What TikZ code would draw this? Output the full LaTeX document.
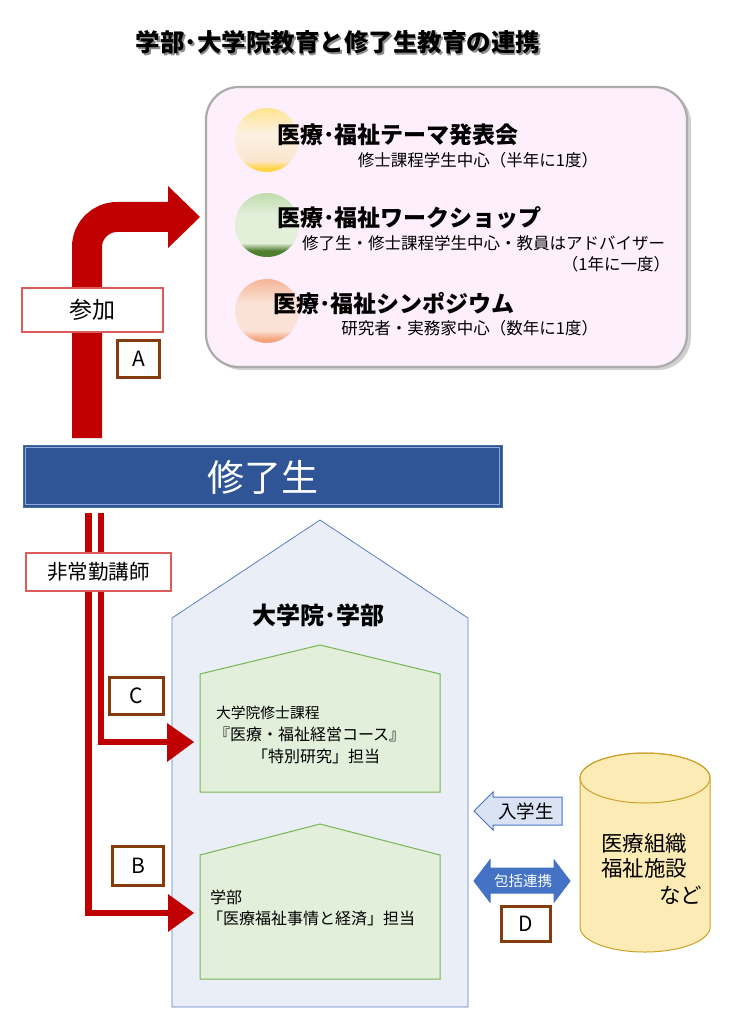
\documentclass[tikz,border=0pt]{standalone}
\usepackage{fontspec}
\newfontfamily\jp{Noto Sans CJK JP}
\usetikzlibrary{calc}
\newcommand\myfs[1]{\fontsize{#1}{#1}\selectfont}
\definecolor{dred}{HTML}{C00000}
\definecolor{brownb}{HTML}{843C0C}
\definecolor{navy}{HTML}{2F5597}
\definecolor{navyln}{HTML}{41719C}
\definecolor{navyin}{HTML}{8FAADC}
\definecolor{pinkbg}{HTML}{FDF0FC}
\definecolor{pinkln}{HTML}{ABABAB}
\definecolor{housebg}{HTML}{E9EEF7}
\definecolor{houseln}{HTML}{5B7FBF}
\definecolor{greenbg}{HTML}{E2EFDA}
\definecolor{greenln}{HTML}{78B653}
\definecolor{cylbg}{HTML}{FDEBB6}
\definecolor{cylln}{HTML}{C9A227}
\definecolor{lblue}{HTML}{DAE3F3}
\definecolor{mblue}{HTML}{4472C4}
\definecolor{redbox}{HTML}{DD5A5A}
% circle gradients
\definecolor{yb}{HTML}{FFD447}
\definecolor{ym2}{HTML}{FBE6CF}
\definecolor{ym}{HTML}{FDF1E3}
\definecolor{yt}{HTML}{FFE48F}
\definecolor{gb}{HTML}{4F7F2F}
\definecolor{gm}{HTML}{E2EFD9}
\definecolor{gt}{HTML}{C0DCAD}
\definecolor{ob}{HTML}{F4A47E}
\definecolor{om}{HTML}{FBE2D6}
\definecolor{ot}{HTML}{F5B597}
\pgfdeclareverticalshading{yelshade}{100bp}{color(0bp)=(yb); color(28bp)=(yb); color(34bp)=(ym2); color(55bp)=(ym); color(75bp)=(yt); color(100bp)=(yt)}
\pgfdeclareverticalshading{grnshade}{100bp}{color(0bp)=(gb); color(30bp)=(gb); color(36bp)=(gm); color(58bp)=(gm); color(75bp)=(gt); color(100bp)=(gt)}
\pgfdeclareverticalshading{orgshade}{100bp}{color(0bp)=(ob); color(28bp)=(ob); color(35bp)=(om); color(56bp)=(om); color(75bp)=(ot); color(100bp)=(ot)}
\begin{document}
\begin{tikzpicture}[x=1pt,y=-1pt,
  every node/.style={inner sep=0pt,outer sep=0pt,font=\jp},
  ttl/.style={font=\jp\bfseries\myfs{24.5}},
  evtitle/.style={font=\jp\bfseries\myfs{23},anchor=west},
  evsub/.style={font=\jp\myfs{16.5}},
  redlbl/.style={draw=redbox,line width=2,fill=white},
  letterbox/.style={draw=brownb,line width=3,fill=white,font=\jp\myfs{21}},
  band/.style={draw=dred,line width=30,rounded corners=30},
  thinband/.style={draw=dred,line width=6.5,line join=miter},
  head/.style={fill=dred},
  housetxt/.style={font=\jp\myfs{16},anchor=west},
  cyltxt/.style={font=\jp\myfs{21.5}}]
\useasboundingbox (0,0) rectangle (729,1024);

% title
\node[ttl,text=black!45] (titleshadow) at (339.8,43.8) {学部･大学院教育と修了生教育の連携};
\node[ttl] (title) at (338,42) {学部･大学院教育と修了生教育の連携};

% events box
\fill[black!18,rounded corners=33] (209,90) rectangle (691,370);
\node[draw=pinkln,line width=2.2,fill=pinkbg,rounded corners=33,minimum width=481,minimum height=280] (events) at (446.5,227) {};

\shade[shading=yelshade] (267,140) circle (32);
\shade[shading=grnshade] (267,225) circle (32);
\shade[shading=orgshade] (267,311) circle (32);

\node[evtitle] (ev1) at (277,135) {医療･福祉テーマ発表会};
\node[evsub,anchor=east] (ev1s) at (598,160) {修士課程学生中心（半年に1度）};
\node[evtitle] (ev2) at (277,218) {医療･福祉ワークショップ};
\node[evsub,anchor=west] (ev2s) at (302,243) {修了生・修士課程学生中心・教員はアドバイザー};
\node[evsub,anchor=east] (ev2t) at (670,264) {（1年に一度）};
\node[evtitle] (ev3) at (273,304) {医療･福祉シンポジウム};
\node[evsub,anchor=east] (ev3s) at (598,328) {研究者・実務家中心（数年に1度）};

% graduates bar
\node[fill=navy,draw=navyln,line width=1,minimum width=479,minimum height=62] (shuryo) at (262.5,476) {};
\draw[navyin,line width=0.8] ($(shuryo.north west)+(2.5,2.5)$) rectangle ($(shuryo.south east)+(-2.5,-2.5)$);
\node[text=white,font=\jp\myfs{37}] (shuryotxt) at (263,477) {修了生};

% arrow A
\draw[band] ($(shuryo.north west)+(64,-7)$) |- ($(events.west)+(-38,-10)$);
\fill[head] ($(events.west)+(-38,-41)$) -- ($(events.west)+(-6,-10)$) -- ($(events.west)+(-38,21)$) -- cycle;
\node[redlbl,minimum width=141,minimum height=44,font=\jp\myfs{23}] (sanka) at (92.5,310) {参加};
\node[letterbox,minimum width=42,minimum height=37] (boxA) at (138.5,359) {A};

% big house
\draw[fill=housebg,draw=houseln,line width=0.8] (172,618) -- (320,520) -- (468,618) -- (468,1007) -- (172,1007) -- cycle;
\node[font=\jp\bfseries\myfs{24}] (daigakuin) at (318,615) {大学院･学部};

% green houses
\draw[fill=greenbg,draw=greenln,line width=1] (200,674) -- (320,645) -- (440,674) -- (440,792) -- (200,792) -- cycle;
\node[housetxt,font=\jp\myfs{14.8}] (h1a) at (216,713) {大学院修士課程};
\node[housetxt] (h1b) at (214,734) {『医療・福祉経営コース』};
\node[housetxt] (h1c) at (252,756) {「特別研究」担当};

\draw[fill=greenbg,draw=greenln,line width=1] (200,855) -- (320,824) -- (440,855) -- (440,979) -- (200,979) -- cycle;
\node[housetxt] (h2a) at (210,897) {学部};
\node[housetxt] (h2b) at (207,918) {「医療福祉事情と経済」担当};

\coordinate (gradIn) at (194,742);
\coordinate (ugIn) at (194,913);

% lines C and B
\draw[thinband] ($(shuryo.south west)+(78,6)$) |- ($(gradIn)+(-26,0)$);
\fill[head] ($(gradIn)+(-27,-19)$) -- (gradIn) -- ($(gradIn)+(-27,20)$) -- cycle;
\draw[thinband] ($(shuryo.south west)+(65.5,6)$) |- ($(ugIn)+(-26,0)$);
\fill[head] ($(ugIn)+(-26,-19)$) -- (ugIn) -- ($(ugIn)+(-26,19)$) -- cycle;

\node[redlbl,minimum width=145,minimum height=38,font=\jp\myfs{20.5}] (hijokin) at (98.5,572) {非常勤講師};
\node[letterbox,minimum width=54,minimum height=37] (boxC) at (136.5,696) {C};
\node[letterbox,minimum width=51,minimum height=39] (boxB) at (138,866) {B};

% cylinder
\draw[fill=cylbg,draw=cylln,line width=1] (580,778) -- (580,927) arc[start angle=180,end angle=0,x radius=65,y radius=25] -- (710,778) arc[start angle=0,end angle=-180,x radius=65,y radius=25] -- cycle;
\draw[draw=cylln,line width=1] (645,778) ellipse[x radius=65,y radius=25];
\node[cyltxt,anchor=west] (cyl1) at (601,843) {医療組織};
\node[cyltxt,anchor=west] (cyl2) at (601,868) {福祉施設};
\node[cyltxt,anchor=east] (cyl3) at (702,895) {など};

% arrows
\draw[fill=lblue,draw=mblue,line width=1] (474,811) -- (493,792) -- (493,797) -- (562,797) -- (562,825) -- (493,825) -- (493,830) -- cycle;
\node[font=\jp\myfs{18.5}] (nyugaku) at (526,811) {入学生};
\draw[fill=mblue,draw=mblue,line width=1] (474,881) -- (490,860) -- (490,868) -- (554,868) -- (554,860) -- (570,881) -- (554,902) -- (554,893) -- (490,893) -- (490,902) -- cycle;
\node[text=white,font=\jp\myfs{14.5}] (hokatsu) at (523,881) {包括連携};
\node[letterbox,minimum width=49,minimum height=35] (boxD) at (526,924) {D};
\end{tikzpicture}
\end{document}
